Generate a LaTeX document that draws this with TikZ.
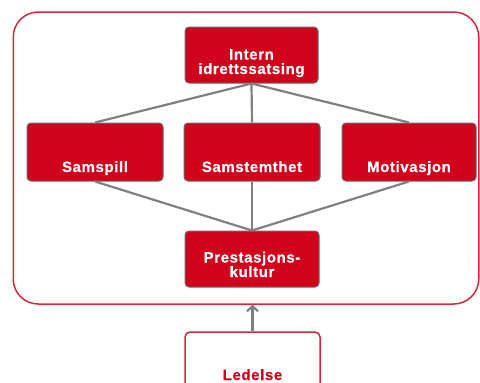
\documentclass[tikz,border=0pt]{standalone}
\usepackage{fontspec}
\newfontfamily\boxfont{Liberation Sans}[LetterSpace=4,FakeBold=0.6]
\usetikzlibrary{arrows.meta}
\definecolor{boxred}{RGB}{208,2,28}
\definecolor{framered}{RGB}{212,40,56}
\definecolor{linegray}{RGB}{128,128,128}
\definecolor{edgegray}{RGB}{105,105,105}
\begin{document}
\begin{tikzpicture}[x=1pt,y=1pt,
  redbox/.style={draw=edgegray,line width=1pt,fill=boxred,text=white,rounded corners=4pt,
    inner sep=0pt,font=\boxfont\bfseries\fontsize{15}{14.5}\selectfont,align=center},
  lowtext/.style={text height=49pt,text depth=9pt},
  link/.style={draw=linegray,line width=2.2pt}]
  \useasboundingbox (0,0) rectangle (480,-383);

  \node[draw=framered,line width=1.5pt,rounded corners=25pt,minimum width=465.5pt,
    minimum height=292pt,inner sep=0pt] (frame) at (246,-158) {};

  \node[redbox,minimum width=133pt,text height=47pt,text depth=9pt] (intern) at (251.5,-55)
    {Intern\\idrettssatsing};
  \node[redbox,lowtext,minimum width=136pt] (samspill) at (95,-152) {Samspill};
  \node[redbox,lowtext,minimum width=136pt] (samstemt) at (252,-152) {Samstemthet};
  \node[redbox,lowtext,minimum width=134pt] (motiv) at (409,-152) {Motivasjon};
  \node[redbox,minimum width=134pt,text height=46pt,text depth=10pt] (prest) at (252,-259)
    {Prestasjons-\\kultur};

  \node[draw=framered,line width=1.5pt,rounded corners=5pt,text=boxred,inner sep=0pt,
    font=\boxfont\bfseries\fontsize{15}{15}\selectfont,minimum width=135pt,
    text height=48pt,text depth=10pt] (ledelse) at (252.5,-361) {Ledelse};

  \draw[link] (intern.south) -- (samspill.north);
  \draw[link] (intern.south) -- (samstemt.north);
  \draw[link] (intern.south) -- (motiv.north);
  \draw[link] (samspill.south) -- (prest.north);
  \draw[link] (samstemt.south) -- (prest.north);
  \draw[link] (motiv.south) -- (prest.north);

  \draw[draw=linegray,line width=2.2pt,-{Straight Barb[length=5pt,width=11pt]}]
    (ledelse.north) -- (ledelse.north |- frame.south);
\end{tikzpicture}
\end{document}
